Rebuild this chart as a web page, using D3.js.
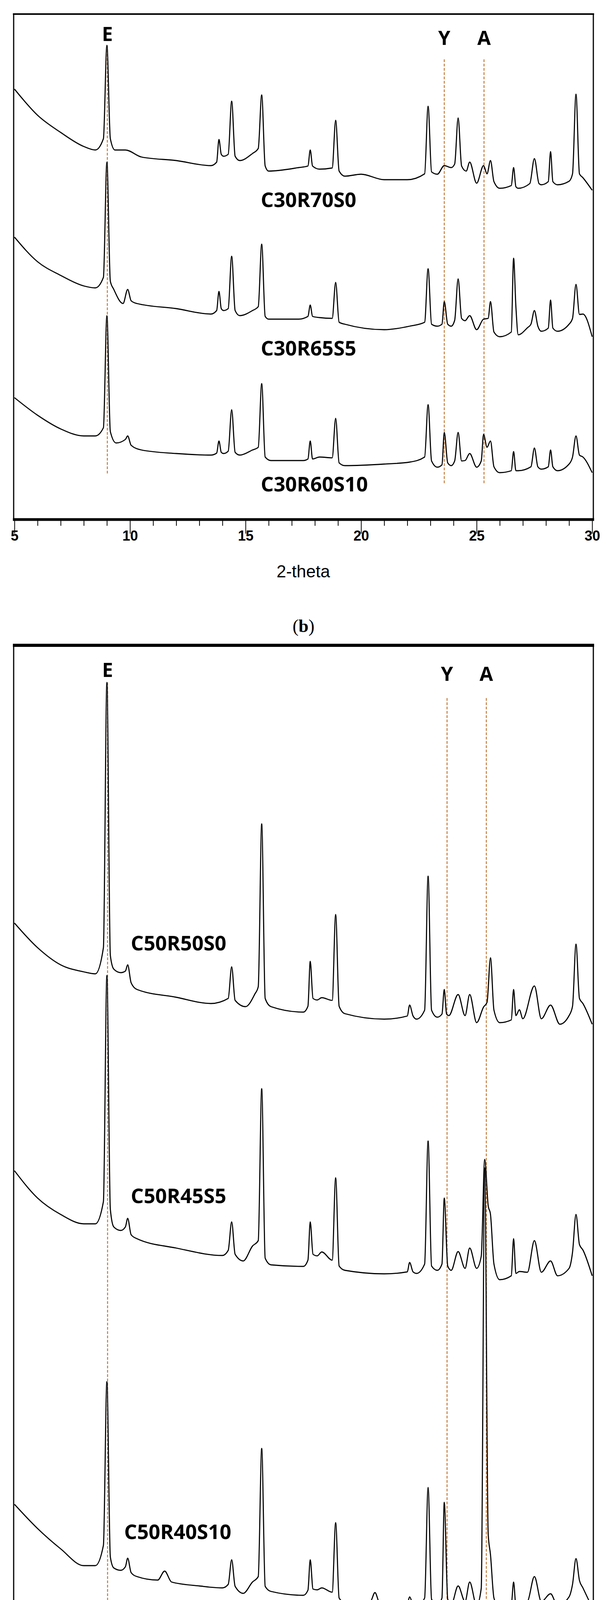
<!DOCTYPE html>
<html><head><meta charset="utf-8">
<script src="https://cdn.jsdelivr.net/npm/d3@7"></script>
<style>body{margin:0;background:#fff}</style>
</head><body>
<script>
// ---- data (2-theta, relative intensity) ----
const xTicksMajor = [5,10,15,20,25,30];
const markerNames = ["E","Y","A"];
const markersB = [9.02, 23.6, 25.32];
const markersC = [9.03, 23.72, 25.42];

const labelsB = ["C30R70S0","C30R65S5","C30R60S10"];
const labelsC = ["C50R50S0","C50R45S5","C50R40S10"];

const b1 = [[5,1102],[6,1035],[7,991],[8,955],[8.5,946],[8.85,975],[9.0,1214],[9.15,975],[9.35,946],[9.8,946],[10.5,928],[12,919],[13.5,906],[13.75,915],[13.85,973],[13.95,935],[14.05,930],[14.25,935],[14.4,1071],[14.55,930],[14.75,919],[15.3,937],[15.55,950],[15.7,1087],[15.85,905],[16.0,892],[17.3,901],[17.7,905],[17.8,946],[17.9,905],[18.2,897],[18.75,900],[18.9,1022],[19.05,892],[19.3,879],[20,884],[21,870],[22,870],[22.75,885],[22.9,1058],[23.05,890],[23.3,884],[23.6,906],[23.9,901],[24.05,910],[24.2,1028],[24.35,905],[24.55,892],[24.7,915],[25.0,861],[25.3,906],[25.45,885],[25.6,919],[25.75,865],[26.0,848],[26.5,855],[26.6,901],[26.7,852],[26.8,848],[27.3,860],[27.5,924],[27.7,860],[27.8,857],[28.1,865],[28.2,942],[28.3,865],[28.5,857],[29.0,866],[29.15,885],[29.3,1089],[29.45,885],[29.6,875],[30,843]];
const b2 = [[5,723],[6,660],[7,625],[8,598],[8.5,593],[8.85,620],[9.0,915],[9.15,610],[9.3,589],[9.7,553],[9.9,589],[10.05,560],[10.3,553],[12,540],[13.5,526],[13.75,535],[13.85,584],[13.95,540],[14.05,535],[14.25,540],[14.4,674],[14.55,535],[14.75,522],[15.3,535],[15.55,545],[15.7,705],[15.85,520],[16.0,513],[17.3,513],[17.7,520],[17.8,549],[17.9,520],[18.2,517],[18.75,515],[18.9,607],[19.05,505],[19.3,500],[21,486],[22.1,495],[22.75,505],[22.9,642],[23.05,500],[23.3,495],[23.5,500],[23.6,558],[23.75,500],[23.9,495],[24.05,510],[24.2,616],[24.35,515],[24.5,509],[24.7,522],[25.0,486],[25.3,513],[25.5,515],[25.6,558],[25.75,480],[26.0,468],[26.5,480],[26.6,669],[26.7,544],[26.8,473],[27.2,491],[27.35,500],[27.5,535],[27.65,495],[27.8,482],[28.1,490],[28.2,562],[28.3,490],[28.5,482],[29.0,500],[29.15,515],[29.3,602],[29.45,525],[29.6,526],[30,468]];
const b3 = [[5,312],[6,267],[7,232],[8,214],[8.5,214],[8.85,235],[9.0,522],[9.15,225],[9.4,196],[9.8,205],[9.9,214],[10.05,190],[10.5,178],[12,169],[13.5,165],[13.75,170],[13.85,201],[13.95,172],[14.05,169],[14.25,175],[14.4,281],[14.55,172],[14.75,165],[15.3,178],[15.55,185],[15.7,348],[15.85,160],[16.1,151],[17.5,151],[17.7,155],[17.8,201],[17.9,155],[18.2,160],[18.75,158],[18.9,259],[19.05,145],[19.3,138],[21,142],[22.1,147],[22.75,160],[22.9,294],[23.05,150],[23.3,134],[23.5,140],[23.6,223],[23.75,145],[23.9,138],[24.05,150],[24.2,223],[24.35,150],[24.5,151],[24.7,169],[25.0,134],[25.2,150],[25.3,218],[25.45,185],[25.6,201],[25.75,135],[26.0,120],[26.5,125],[26.6,174],[26.7,125],[26.8,125],[27.35,135],[27.5,183],[27.65,135],[27.8,129],[28.1,135],[28.2,178],[28.3,135],[28.5,125],[29.0,142],[29.15,160],[29.3,214],[29.45,165],[29.6,160],[30,120]];

const c1 = [[5,1823],[6,1760],[7,1716],[8,1698],[8.5,1693],[8.85,1760],[9.0,2439],[9.15,1740],[9.3,1705],[9.6,1696],[9.8,1700],[9.9,1716],[10.05,1670],[10.3,1653],[12,1633],[13.5,1617],[14.25,1630],[14.4,1711],[14.55,1625],[15.0,1609],[15.4,1641],[15.55,1660],[15.7,2077],[15.85,1630],[16.1,1609],[17.5,1595],[17.7,1610],[17.8,1725],[17.92,1630],[18.1,1626],[18.3,1632],[18.75,1625],[18.9,1845],[19.05,1610],[19.3,1591],[21,1577],[22.0,1585],[22.1,1613],[22.25,1585],[22.4,1577],[22.75,1600],[22.9,1943],[23.05,1600],[23.3,1582],[23.5,1590],[23.6,1653],[23.7,1590],[23.8,1586],[24.2,1640],[24.5,1586],[24.7,1640],[25.0,1568],[25.3,1608],[25.45,1620],[25.6,1734],[25.75,1600],[26.0,1568],[26.5,1575],[26.6,1653],[26.7,1586],[26.85,1601],[27.0,1578],[27.5,1662],[27.8,1578],[28.2,1613],[28.6,1564],[29.0,1586],[29.15,1610],[29.3,1769],[29.45,1630],[29.6,1617],[30,1564]];
const c2 = [[5,1189],[6,1119],[7,1077],[8,1053],[8.5,1053],[8.85,1110],[9.0,1689],[9.15,1090],[9.3,1045],[9.6,1036],[9.8,1045],[9.9,1067],[10.05,1025],[10.3,1015],[12,991],[14,972],[14.25,985],[14.4,1058],[14.55,975],[14.9,958],[15.3,996],[15.55,1010],[15.7,1399],[15.85,965],[16.1,948],[17.5,944],[17.7,960],[17.8,1058],[17.92,975],[18.1,971],[18.3,981],[18.75,960],[18.9,1171],[19.05,945],[19.3,934],[21,925],[22.0,930],[22.1,954],[22.25,930],[22.4,926],[22.75,950],[22.9,1265],[23.05,945],[23.3,934],[23.5,950],[23.6,1119],[23.75,945],[23.9,934],[24.2,982],[24.5,939],[24.7,991],[25.0,939],[25.2,970],[25.35,1218],[25.5,1100],[25.6,1077],[25.75,950],[26.0,910],[26.5,920],[26.6,1015],[26.7,926],[26.85,931],[27.2,929],[27.5,1010],[27.8,929],[28.2,958],[28.5,920],[29.0,939],[29.15,980],[29.3,1077],[29.45,1000],[29.6,986],[30,920]];
const c3 = [[5,335],[6,273],[7,221],[8,178],[8.5,178],[8.85,230],[9.0,649],[9.15,200],[9.3,172],[9.6,166],[9.8,175],[9.9,197],[10.05,160],[10.3,150],[11.2,141],[11.5,164],[11.8,136],[13,126],[14,121],[14.25,130],[14.4,193],[14.55,125],[14.9,107],[15.3,136],[15.55,150],[15.7,478],[15.85,125],[16.1,112],[17.5,102],[17.7,115],[17.8,193],[17.92,118],[18.1,116],[18.3,121],[18.75,110],[18.9,288],[19.05,95],[19.3,83],[20.4,86],[20.6,109],[20.8,81],[21,74],[22.0,80],[22.1,98],[22.25,78],[22.4,74],[22.75,95],[22.9,378],[23.05,92],[23.3,78],[23.5,95],[23.6,340],[23.75,92],[23.9,78],[24.2,126],[24.5,86],[24.7,136],[25.0,76],[25.2,120],[25.35,1196],[25.5,260],[25.6,206],[25.75,95],[26.0,68],[26.5,78],[26.6,136],[26.7,76],[27.2,86],[27.5,150],[27.8,86],[28.2,106],[28.5,76],[29.0,98],[29.15,130],[29.3,196],[29.45,140],[29.6,121],[30,71]];

// ---- layout ----
const W=1555,H=4490;
const svg=d3.select("body").append("svg").attr("width",W).attr("height",H);
const font='"Open Sans","Noto Sans",sans-serif';

function panel(o){
  const x=d3.scaleLinear().domain([5,30]).range([37,1517]);
  const y=d3.scaleLinear().domain([0,o.bottom-o.top]).range([o.bottom,o.top]);
  const g=svg.append("g");
  g.append("rect").attr("x",35).attr("y",o.top).attr("width",1485).attr("height",o.bottom-o.top)
    .attr("fill","none").attr("stroke","#000").attr("stroke-width",3);
  g.append("line").attr("x1",33).attr("x2",1522).attr("y1",o.top).attr("y2",o.top).attr("stroke","#000").attr("stroke-width",o.topW);
  g.append("line").attr("x1",33).attr("x2",1522).attr("y1",o.bottom).attr("y2",o.bottom).attr("stroke","#000").attr("stroke-width",o.botW);
  const ax=d3.axisBottom(x).tickValues(d3.range(5,31,1)).tickSize(o.minorLen)
    .tickFormat(d=>xTicksMajor.includes(d)?d:"");
  const axg=g.append("g").attr("transform",`translate(0,${o.bottom})`).call(ax);
  axg.select(".domain").remove();
  axg.selectAll(".tick line").attr("stroke","#000").attr("stroke-width",2)
    .attr("y2",d=>xTicksMajor.includes(d)?o.majorLen:o.minorLen);
  axg.selectAll(".tick text").attr("y",o.tickTextY).attr("dy",0).attr("x",0)
    .style("font-family",o.tickFont).style("font-size",o.tickSize+"px").style("font-weight",o.tickWeight)
    .attr("fill","#000");
  g.append("text").attr("x",x(17.5)).attr("y",o.xTitleY).attr("text-anchor","middle")
    .style("font-family",o.tickFont).style("font-size",o.xTitleSize+"px").text("2-theta");
  o.markers.forEach((m,i)=>{
    const top=i===0?o.eTop:o.yaTop, bot=i===0?o.eBot:o.yaBot;
    g.append("line").attr("x1",x(m)).attr("x2",x(m)).attr("y1",top).attr("y2",bot)
      .attr("stroke","#c47c3c").attr("stroke-width",2.5).attr("stroke-dasharray","7,4");
    g.append("text").attr("x",x(m)).attr("y",i===0?o.eLabelY:o.yaLabelY).attr("text-anchor","middle")
      .style("font-family",font).style("font-weight","bold").style("font-size","50px").text(markerNames[i]);
  });
  const line=d3.line().x(d=>x(d[0])).y(d=>y(d[1])).curve(d3.curveMonotoneX);
  o.series.forEach((s,i)=>{
    g.append("path").datum(s).attr("d",line).attr("fill","none").attr("stroke","#000")
      .attr("stroke-width",2.8).attr("stroke-linejoin","round");
    g.append("text").attr("x",o.labelX[i]).attr("y",o.labelY[i])
      .style("font-family",font).style("font-weight","bold").style("font-size","52px").text(o.labels[i]);
  });
  g.append("text").attr("x",W/2).attr("y",o.capY).attr("text-anchor","middle")
    .style("font-family",'"Liberation Serif",serif').style("font-size","46px")
    .html(`(<tspan font-weight="bold">${o.cap}</tspan>)`);
}

panel({top:36,bottom:1330,topW:4,botW:7,minorLen:16,majorLen:36,tickTextY:54,tickFont:'"Liberation Sans Narrow","Liberation Sans",sans-serif',tickSize:36,tickWeight:"bold",
  xTitleY:1478,xTitleSize:44,markers:markersB,eTop:116,eBot:1214,yaTop:152,yaBot:1237,eLabelY:105,yaLabelY:115,
  series:[b1,b2,b3],labels:labelsB,labelX:[668,668,668],labelY:[530,910,1258],capY:1618,cap:"b"});
panel({top:1652,bottom:4186,topW:8,botW:4,minorLen:8,majorLen:16,tickTextY:48,tickFont:font,tickSize:36,tickWeight:"normal",
  xTitleY:4330,xTitleSize:42,markers:markersC,eTop:1747,eBot:4126,yaTop:1787,yaBot:4145,eLabelY:1733,yaLabelY:1743,
  series:[c1,c2,c3],labels:labelsC,labelX:[335,335,318],labelY:[2433,3080,3940],capY:4440,cap:"c"});
</script>
</body></html>
